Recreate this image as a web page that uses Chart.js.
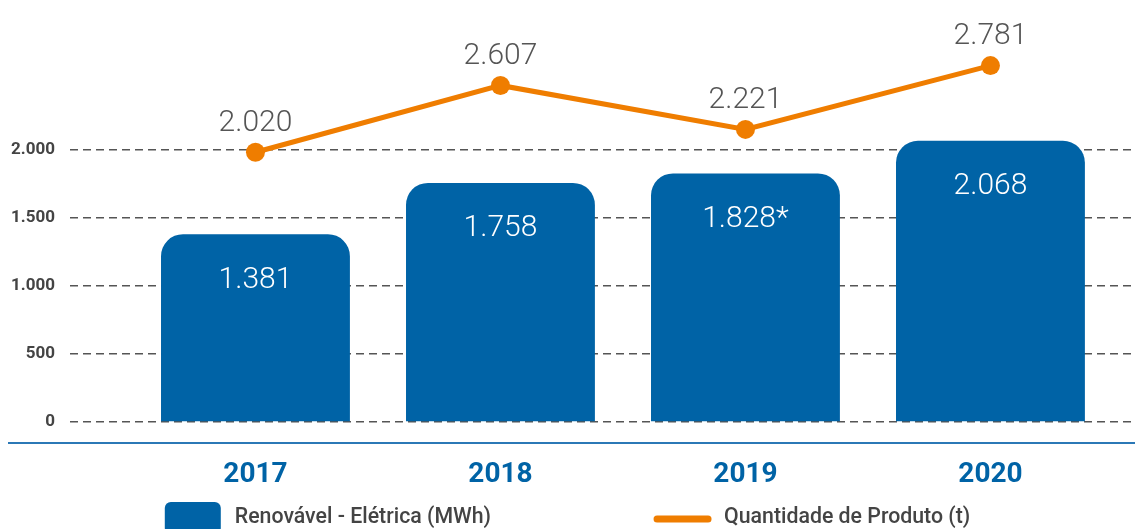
<!DOCTYPE html>
<html>
<head>
<meta charset="utf-8">
<script src="https://cdn.jsdelivr.net/npm/chart.js@4/dist/chart.umd.min.js"></script>
<style>
  body { margin: 0; background: #fff; }
  canvas { display: block; }
</style>
</head>
<body>
<canvas id="chart" width="1135" height="529"></canvas>
<script>
// data
const years = [2017, 2018, 2019, 2020];
const renovavel = [1381, 1758, 1828, 2068];
const renovavelNotes = ['', '', '*', ''];
const produto = [2020, 2607, 2221, 2781];
const yTicks = [0, 500, 1000, 1500, 2000];

const blue = '#0063a6';
const orange = '#ef7d00';

const fmt = (v) => String(v).replace(/\B(?=(\d{3})+(?!\d))/g, '.');

// value labels over the line and inside the bars
const valueLabels = {
    id: 'valueLabels',
    afterDatasetsDraw(chart) {
        const ctx = chart.ctx;
        ctx.save();
        ctx.textAlign = 'center';
        ctx.textBaseline = 'middle';
        ctx.font = '300 30px Roboto';

        chart.getDatasetMeta(1).data.forEach((bar, i) => {
            ctx.fillStyle = '#ffffff';
            ctx.fillText(fmt(renovavel[i]) + renovavelNotes[i], bar.x, bar.y + 46);
        });
        chart.getDatasetMeta(0).data.forEach((pt, i) => {
            ctx.fillStyle = '#555555';
            ctx.fillText(fmt(produto[i]), pt.x, pt.y - 29);
        });
        ctx.restore();
    }
};

// blue base line under the plot and the legend at the bottom
const decorations = {
    id: 'decorations',
    afterDraw(chart) {
        const ctx = chart.ctx;
        const area = chart.chartArea;
        ctx.save();
        ctx.strokeStyle = '#2b78b6';
        ctx.lineWidth = 2;
        ctx.beginPath();
        ctx.moveTo(8, area.bottom + 21);
        ctx.lineTo(chart.width, area.bottom + 21);
        ctx.stroke();

        // legend
        ctx.font = '500 21.3px Roboto';
        ctx.textBaseline = 'middle';
        const sets = chart.data.datasets;
        const barItem = sets[1], lineItem = sets[0];
        const w1 = 56 + 14 + ctx.measureText(barItem.label).width;
        const w2 = 57 + 13 + ctx.measureText(lineItem.label).width;
        const gap = 163;
        let x = (chart.width - (w1 + gap + w2)) / 2;
        const yMid = 518;

        ctx.fillStyle = barItem.backgroundColor;
        ctx.beginPath();
        ctx.roundRect(x, 502, 56, 32, 6);
        ctx.fill();
        ctx.fillStyle = '#444444';
        ctx.textAlign = 'left';
        ctx.fillText(barItem.label, x + 70, yMid);

        x += w1 + gap;
        ctx.strokeStyle = lineItem.borderColor;
        ctx.lineWidth = 7;
        ctx.lineCap = 'round';
        ctx.beginPath();
        ctx.moveTo(x + 3, 519);
        ctx.lineTo(x + 54, 519);
        ctx.stroke();
        ctx.fillText(lineItem.label, x + 70, yMid);
        ctx.restore();
    }
};

new Chart(document.getElementById('chart'), {
    type: 'bar',
    data: {
        datasets: [
            {
                type: 'line',
                label: 'Quantidade de Produto (t)',
                data: years.map((y, i) => ({ x: y, y: produto[i] })),
                yAxisID: 'y1',
                borderColor: orange,
                backgroundColor: orange,
                borderWidth: 5,
                pointRadius: 9.5,
                pointBorderWidth: 0,
                pointBackgroundColor: orange,
                tension: 0,
                order: 0,
            },
            {
                type: 'bar',
                label: 'Renovável - Elétrica (MWh)',
                data: years.map((y, i) => ({ x: y, y: renovavel[i] })),
                yAxisID: 'y',
                backgroundColor: blue,
                borderRadius: { topLeft: 22, topRight: 22, bottomLeft: 0, bottomRight: 0 },
                borderSkipped: 'start',
                categoryPercentage: 1,
                barPercentage: 0.771,
                order: 1,
            },
        ],
    },
    options: {
        responsive: false,
        animation: false,
        devicePixelRatio: 1,
        layout: { autoPadding: false, padding: { top: 14, right: 0, bottom: 42, left: 0 } },
        plugins: {
            legend: { display: false },
            tooltip: { enabled: false },
        },
        scales: {
            x: {
                type: 'linear',
                offset: false,
                min: 2016.243,
                max: 2020.59,
                afterBuildTicks: (s) => { s.ticks = years.map((v) => ({ value: v })); },
                afterFit: (s) => { s.height = 65; s.paddingLeft = 0; s.paddingRight = 0; },
                grid: { display: false, offset: false },
                border: { display: false },
                ticks: {
                    callback: (v) => String(v),
                    color: blue,
                    font: { family: 'Roboto', size: 28, weight: '700' },
                    padding: 28,
                    maxRotation: 0,
                    autoSkip: false,
                },
            },
            y: {
                min: 0,
                max: 3000,
                afterBuildTicks: (s) => { s.ticks = yTicks.map((v) => ({ value: v })); },
                afterFit: (s) => { s.width = 70; s.paddingTop = 0; s.paddingBottom = 0; },
                grid: { color: '#555555', lineWidth: 1.5, drawTicks: false },
                border: { display: false, dash: [8, 5] },
                ticks: {
                    callback: (v) => fmt(v),
                    color: '#444444',
                    font: { family: 'Roboto', size: 17, weight: '700' },
                    padding: 15,
                },
            },
            y1: {
                display: false,
                min: -348,
                max: 3234,
            },
        },
    },
    plugins: [valueLabels, decorations],
});
</script>
</body>
</html>
